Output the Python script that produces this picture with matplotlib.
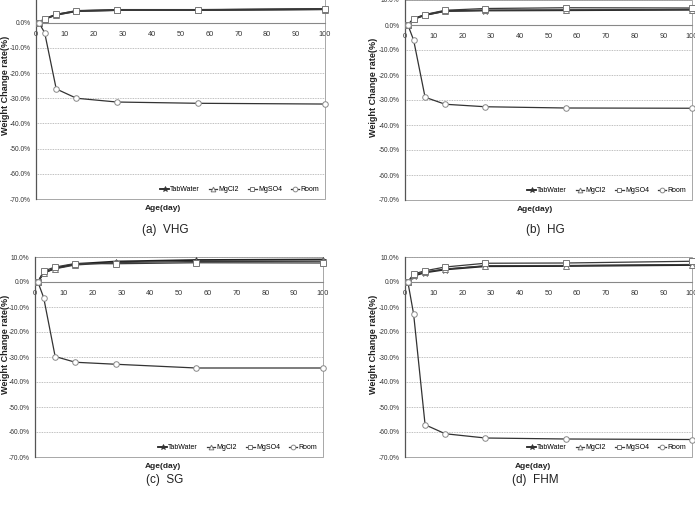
import matplotlib
matplotlib.use("Agg")
import matplotlib.pyplot as plt
from matplotlib.patches import Rectangle
from matplotlib.ticker import FuncFormatter

plt.rcParams['font.family'] = ['Liberation Sans', 'DejaVu Sans']

days = [1, 3, 7, 14, 28, 56, 100]
series_names = ["TabWater", "MgCl2", "MgSO4", "Room"]

# (a) VHG
vhg_tab = [0, 1.5, 3.2, 4.6, 5.0, 5.0, 5.4]
vhg_mgcl2 = [0, 1.4, 3.0, 4.5, 4.9, 4.9, 5.2]
vhg_mgso4 = [0, 1.6, 3.3, 4.8, 5.2, 5.2, 5.6]
vhg_room = [0, -4.0, -26.3, -30.0, -31.5, -32.0, -32.3]

# (b) HG
hg_tab = [0, 2.4, 4.0, 5.6, 5.8, 5.9, 6.1]
hg_mgcl2 = [0, 2.3, 3.9, 5.5, 5.9, 6.0, 6.2]
hg_mgso4 = [0, 2.6, 4.2, 5.9, 6.6, 6.9, 6.8]
hg_room = [0, -6.0, -28.9, -31.7, -32.7, -33.2, -33.3]

# (c) SG
sg_tab = [0, 3.6, 5.5, 7.2, 8.2, 8.8, 9.0]
sg_mgcl2 = [0, 3.8, 5.3, 6.8, 7.8, 8.2, 8.3]
sg_mgso4 = [0, 4.4, 6.0, 7.4, 7.3, 7.7, 7.6]
sg_room = [0, -6.2, -29.8, -32.1, -32.9, -34.4, -34.4]

# (d) FHM
fhm_tab = [0, 2.5, 3.8, 5.0, 6.3, 6.4, 6.8]
fhm_mgcl2 = [0, 2.7, 4.0, 5.2, 6.5, 6.6, 7.0]
fhm_mgso4 = [0, 3.2, 4.5, 6.0, 7.5, 7.6, 8.3]
fhm_room = [0, -12.8, -57.1, -60.7, -62.4, -62.8, -63.0]

captions = ["(a)  VHG", "(b)  HG", "(c)  SG", "(d)  FHM"]
xticks = list(range(0, 101, 10))
yticks = list(range(-70, 11, 10))

W, H = 695, 505
fig = plt.figure(figsize=(W / 100, H / 100), dpi=100)

def add_ax(left, top, right, bottom):
    # pixel box -> figure fraction
    return fig.add_axes([left / W, 1 - bottom / H, (right - left) / W, (bottom - top) / H])

styles = [
    dict(color="#222222", lw=1.3, marker="*", ms=5, mfc="#333333", mec="#333333", mew=0.5),
    dict(color="#3a3a3a", lw=0.9, marker="^", ms=4, mfc="white", mec="#777777", mew=0.7),
    dict(color="#3a3a3a", lw=0.9, marker="s", ms=4, mfc="white", mec="#777777", mew=0.7),
    dict(color="#333333", lw=0.9, marker="o", ms=4, mfc="white", mec="#888888", mew=0.7),
]

panels = [
    ((36, -2.5, 325, 199), [vhg_tab, vhg_mgcl2, vhg_mgso4, vhg_room], (165, 230), (163, 209), 6),
    ((405, 0, 692, 200), [hg_tab, hg_mgcl2, hg_mgso4, hg_room], (545, 230), (535, 210), 374),
    ((35, 257, 323, 457), [sg_tab, sg_mgcl2, sg_mgso4, sg_room], (165, 480), (163, 467), 6),
    ((405, 257, 692, 457), [fhm_tab, fhm_mgcl2, fhm_mgso4, fhm_room], (535, 480), (533, 467), 374),
]

for i, (box, data, cap_pos, xl_pos, yl_x) in enumerate(panels):
    ax = add_ax(*box)
    for name, vals, st in zip(series_names, data, styles):
        ax.plot(days, vals, label=name, clip_on=False, zorder=3, **st)
    ax.set_xlim(0, 100)
    ax.set_ylim(-70, 10)
    ax.set_xticks(xticks)
    ax.set_yticks(yticks)
    ax.yaxis.set_major_formatter(FuncFormatter(lambda v, p: f"{v:.1f}%"))
    ax.yaxis.grid(True, linestyle=(0, (1, 1)), color="#aaaaaa", lw=0.6)
    for s in ["top", "right"]:
        ax.spines[s].set_visible(False)
    ax.spines["bottom"].set_position(("data", 0))
    ax.spines["bottom"].set_color("#888888")
    ax.spines["bottom"].set_linewidth(0.8)
    ax.spines["left"].set_color("#555555")
    ax.spines["left"].set_linewidth(0.9)
    ax.add_patch(Rectangle((0, 0), 1, 1, transform=ax.transAxes, fill=False,
                           ec="#999999", lw=0.6, clip_on=False, zorder=1))
    ax.tick_params(axis="both", length=0, colors="#333333")
    ax.tick_params(axis="x", pad=6, labelsize=5.3)
    ax.tick_params(axis="y", pad=4, labelsize=4.8)
    ax.set_axisbelow(True)
    ax.legend(loc="lower right", ncol=4, frameon=False, fontsize=5,
              handlelength=1.2, handletextpad=0.2, columnspacing=1.3,
              borderaxespad=0.4, markerscale=0.85)
    fig.text(xl_pos[0] / W, 1 - xl_pos[1] / H, "Age(day)", ha="center", va="center",
             fontsize=6, fontweight="bold", color="#222222")
    fig.text(yl_x / W, 1 - ((box[1] + box[3]) / 2 - 13) / H, "Weight Change rate(%)",
             rotation=90, ha="center", va="center", fontsize=6.5, fontweight="bold",
             color="#222222")
    fig.text(cap_pos[0] / W, 1 - cap_pos[1] / H, captions[i], ha="center", va="center",
             fontsize=8.5, color="#222222")

fig.savefig("out.png", dpi=100)
